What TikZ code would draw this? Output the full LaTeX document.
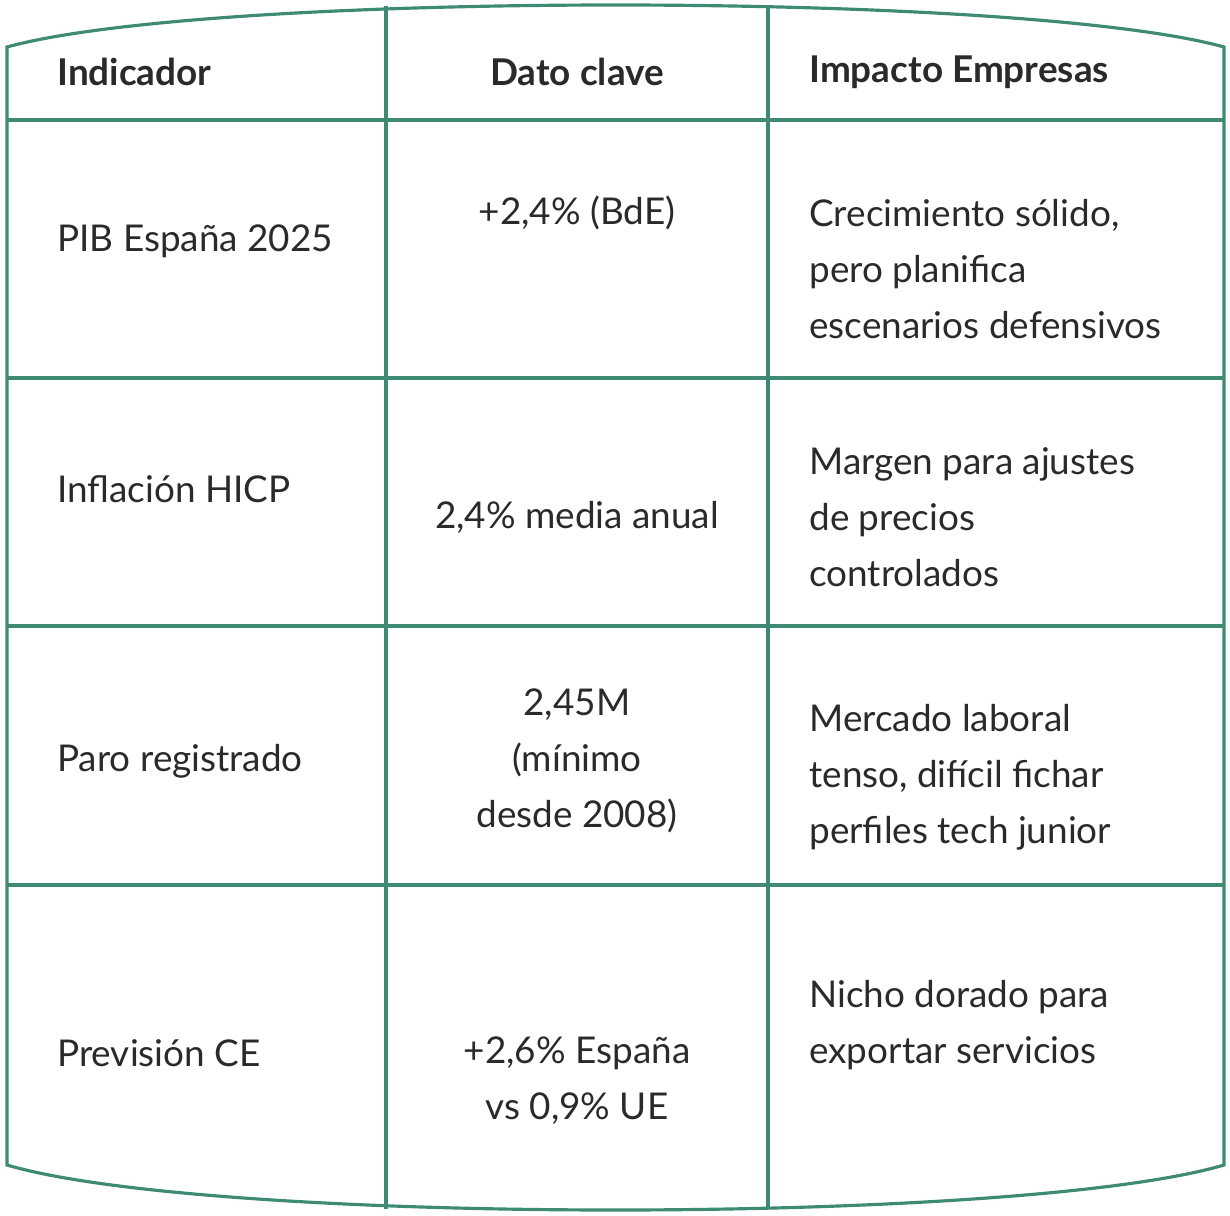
\documentclass[tikz,border=0pt]{standalone}
\usepackage{fontspec}
\setmainfont{Lato}
\definecolor{rulegreen}{HTML}{3E8A75}
\definecolor{inkgray}{HTML}{2A2A2A}
\begin{document}
\begin{tikzpicture}
   [x=0.02cm, y=-0.02cm,
   rule/.style={draw=rulegreen, line width=1.8pt},
   cell/.style={draw=none, fill=none, inner sep=0pt, text=inkgray, font=\fontsize{21}{31.9}\selectfont},
   lcell/.style={cell, align=left, anchor=west},
   ccell/.style={cell, align=center, anchor=center},
   headcell/.style={cell, font=\fontsize{21}{31.9}\selectfont\bfseries}]
\useasboundingbox (0,0) rectangle (1230,1216);

% outline and grid
\draw[rule] (7,47) .. controls (210,-9) and (1021,-9) .. (1224,47)
   -- (1224,1165) .. controls (1021,1225) and (210,1225) .. (7,1165) -- cycle;
\foreach \row in {120,378,626,885} {
   \draw[rule] (7,\row) -- (1224,\row); }
\foreach \col in {386,768} {
   \draw[rule] (\col,6) -- (\col,1209); }

% header
\node[headcell, anchor=west] (hind) at (57,72) {Indicador};
\node[headcell, anchor=center] (hdat) at (577,72) {Dato clave};
\node[headcell, anchor=west] (himp) at (809,72) {Impacto Empresas};

% rows
\node[lcell] (pib) at (57,241) {PIB España 2025};
\node[ccell] (pibdat) at (577,213) {+2,4\% (BdE)};
\node[lcell] (pibimp) at (809,269) {Crecimiento sólido,\\pero planifica\\escenarios defensivos};

\node[lcell] (infl) at (57,489) {Inflación HICP};
\node[ccell] (infldat) at (577,517) {2,4\% media anual};
\node[lcell] (inflimp) at (809,517) {Margen para ajustes\\de precios\\controlados};

\node[lcell] (paro) at (57,761) {Paro registrado};
\node[ccell] (parodat) at (577,761) {2,45M\\(mínimo\\desde 2008)};
\node[lcell] (paroimp) at (809,777) {Mercado laboral\\tenso, difícil fichar\\perfiles tech junior};

\node[lcell] (prev) at (57,1053) {Previsión CE};
\node[ccell] (prevdat) at (577,1081) {+2,6\% España\\vs 0,9\% UE};
\node[lcell] (previmp) at (809,1025) {Nicho dorado para\\exportar servicios};
\end{tikzpicture}
\end{document}
